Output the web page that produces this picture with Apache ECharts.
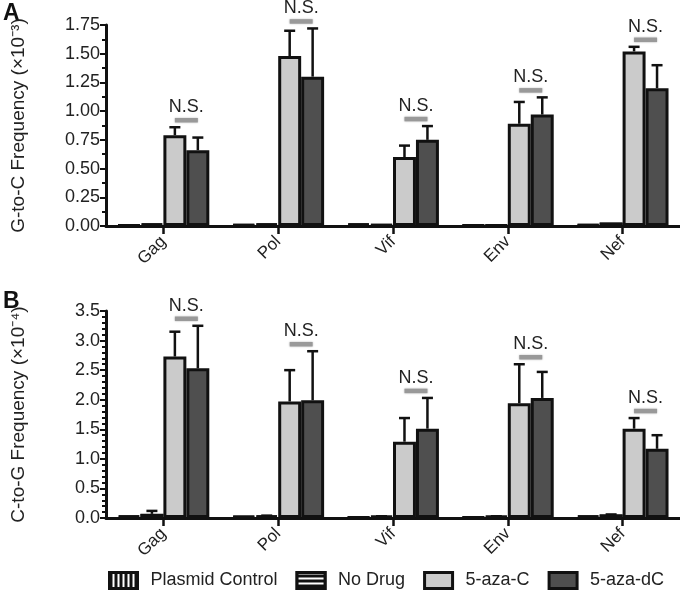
<!DOCTYPE html>
<html><head><meta charset="utf-8">
<script src="https://cdn.jsdelivr.net/npm/echarts@6/dist/echarts.min.js"></script>
<style>html,body{margin:0;padding:0;background:#fff}#c{width:680px;height:593px}</style>
</head><body><div id="c"></div>
<script>
const categories = ['Gag','Pol','Vif','Env','Nef'];
const seriesNames = ['Plasmid Control','No Drug','5-aza-C','5-aza-dC'];
// Panel A: G-to-C frequency (x10^-3)
const A_plasmid = [0.01, 0.015, 0.02, 0.01, 0.015];
const A_nodrug  = [0.02, 0.02, 0.015, 0.01, 0.03];
const A_azaC    = [0.79, 1.48, 0.60, 0.89, 1.52];
const A_azadC   = [0.66, 1.30, 0.75, 0.97, 1.20];
const A_azaC_err  = [0.86, 1.70, 0.70, 1.08, 1.56];
const A_azadC_err = [0.77, 1.72, 0.87, 1.12, 1.40];
// Panel B: C-to-G frequency (x10^-4)
const B_plasmid = [0.04, 0.03, 0.02, 0.02, 0.04];
const B_nodrug  = [0.07, 0.04, 0.03, 0.03, 0.06];
const B_nodrug_err = [0.12, 0.04, 0.03, 0.03, 0.06];
const B_azaC    = [2.73, 1.97, 1.29, 1.94, 1.51];
const B_azadC   = [2.53, 1.99, 1.51, 2.03, 1.17];
const B_azaC_err  = [3.15, 2.50, 1.69, 2.60, 1.69];
const B_azadC_err = [3.25, 2.82, 2.03, 2.47, 1.40];
const A_ticks = {min:0, max:1.75, interval:0.25};
const B_ticks = {min:0, max:3.5, interval:0.5};

const FONT = 'Liberation Sans, Arial, Helvetica, sans-serif';
const TXT = '#222';
const colors = ['#111','#111','#cbcbcb','#4f4f4f'];
const decals = [
  {symbol:'rect', color:'#fff', dashArrayX:[[1,0]], dashArrayY:[2,3], rotation:Math.PI/2, symbolSize:1},
  {symbol:'rect', color:'#fff', dashArrayX:[[1,0]], dashArrayY:[2,3], rotation:0, symbolSize:1},
  null, null
];

function barSeries(idx, data, ai){
  const s = {name:seriesNames[idx], type:'bar', xAxisIndex:ai, yAxisIndex:ai, data:data,
    barGap:'0%', barCategoryGap:'20%',
    itemStyle:{color:colors[idx], borderColor:'#111', borderWidth:3}, z:2};
  if (decals[idx]) s.itemStyle.decal = decals[idx];
  return s;
}

function errSeries(ai, barIdx, errs){
  const base = barIdx===2 ? (ai===0?A_azaC:B_azaC) : barIdx===3 ? (ai===0?A_azadC:B_azadC) : (ai===0?A_nodrug:B_nodrug);
  return {type:'custom', xAxisIndex:ai, yAxisIndex:ai, z:1, silent:true,
    data: errs.map((e,i)=>[i, e, base[i]]),
    renderItem: function(params, api){
      const ci = api.value(0), e = api.value(1), b = api.value(2);
      const bw = api.size([1,0])[0];
      const w = bw*0.8/4;
      const p = api.coord([ci, e]);
      const x = p[0] + (-1.5 + barIdx)*w;
      const y0 = api.coord([ci, b])[1];
      return {type:'group', children:[
        {type:'line', shape:{x1:x,y1:y0,x2:x,y2:p[1]}, style:{stroke:'#111', lineWidth:2.5}},
        {type:'line', shape:{x1:x-5.5,y1:p[1],x2:x+5.5,y2:p[1]}, style:{stroke:'#111', lineWidth:2.5}}
      ]};
    }};
}

function nsSeries(ai, e1, e2){
  return {type:'custom', xAxisIndex:ai, yAxisIndex:ai, z:3, silent:true,
    data: categories.map((c,i)=>[i, Math.max(e1[i], e2[i])]),
    renderItem: function(params, api){
      const ci = api.value(0), m = api.value(1);
      const bw = api.size([1,0])[0];
      const w = bw*0.8/4;
      const p = api.coord([ci, m]);
      const xa = p[0] + 0.5*w, xb = p[0] + 1.5*w;
      const yl = p[1] - 7;
      return {type:'group', children:[
        {type:'line', shape:{x1:xa,y1:yl,x2:xb,y2:yl}, style:{stroke:'#999', lineWidth:4.5, shadowBlur:2, shadowColor:'rgba(0,0,0,0.3)'}},
        {type:'text', style:{text:'N.S.', x:(xa+xb)/2, y:yl-4, align:'center', verticalAlign:'bottom', fill:TXT, font:'18px '+FONT}}
      ]};
    }};
}

function yAxis(gi, t, dec, name, minor){
  return {type:'value', gridIndex:gi, min:t.min, max:t.max, interval:t.interval,
    name:name, nameLocation:'middle', nameGap:78, nameTextStyle:{fontSize:19, color:TXT, fontFamily:FONT},
    axisLine:{show:true, lineStyle:{color:'#111', width:3}},
    axisTick:{show:true, length:6, lineStyle:{color:'#111', width:2}},
    minorTick:{show:true, splitNumber:minor, length:4, lineStyle:{color:'#111', width:2}},
    splitLine:{show:false},
    axisLabel:{fontSize:18, color:TXT, fontFamily:FONT, margin:6, formatter:v=>v.toFixed(dec)}};
}
function xAxis(gi){
  return {type:'category', gridIndex:gi, data:categories,
    axisLine:{lineStyle:{color:'#111', width:3}},
    axisTick:{show:true, alignWithLabel:true, length:8, lineStyle:{color:'#111', width:2.5}},
    axisLabel:{rotate:45, fontSize:17, color:TXT, fontFamily:FONT, margin:13}};
}

const chart = echarts.init(document.getElementById('c'), null, {renderer:'canvas'});
chart.setOption({
  animation:false,
  textStyle:{fontFamily:FONT},
  graphic:[
    {type:'text', left:3, top:2, style:{text:'A', font:'bold 23px '+FONT, fill:'#111'}},
    {type:'text', left:3, top:290, style:{text:'B', font:'bold 23px '+FONT, fill:'#111'}}
  ],
  legend:{data:seriesNames, left:103, top:566, icon:'rect', itemWidth:28, itemHeight:16, itemGap:18,
    textStyle:{fontSize:18, color:TXT, fontFamily:FONT, padding:[0,0,0,8]},
    itemStyle:{borderColor:'#111', borderWidth:3}},
  grid:[
    {left:106, right:0, top:25, height:201},
    {left:106, right:0, top:311, height:207}
  ],
  xAxis:[xAxis(0), xAxis(1)],
  yAxis:[
    yAxis(0, A_ticks, 2, 'G-to-C Frequency (×10⁻³)', 2),
    yAxis(1, B_ticks, 1, 'C-to-G Frequency (×10⁻⁴)', 5)
  ],
  series:[
    barSeries(0, A_plasmid, 0), barSeries(1, A_nodrug, 0), barSeries(2, A_azaC, 0), barSeries(3, A_azadC, 0),
    barSeries(0, B_plasmid, 1), barSeries(1, B_nodrug, 1), barSeries(2, B_azaC, 1), barSeries(3, B_azadC, 1),
    errSeries(0, 2, A_azaC_err), errSeries(0, 3, A_azadC_err),
    errSeries(1, 1, B_nodrug_err), errSeries(1, 2, B_azaC_err), errSeries(1, 3, B_azadC_err),
    nsSeries(0, A_azaC_err, A_azadC_err), nsSeries(1, B_azaC_err, B_azadC_err)
  ]
});
</script></body></html>
